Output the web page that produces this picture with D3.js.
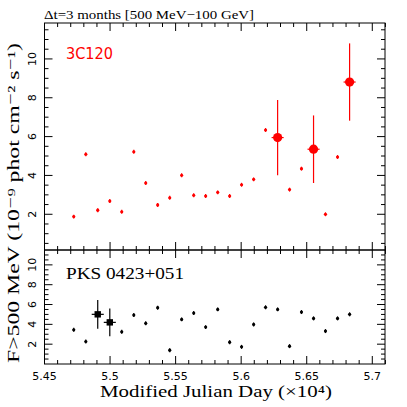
<!DOCTYPE html>
<html>
<head>
<meta charset="utf-8">
<script src="https://cdn.jsdelivr.net/npm/d3@7"></script>
<style>
  body { margin: 0; background: #fff; }
  text { font-family: "Liberation Serif", "DejaVu Serif", serif; }
</style>
</head>
<body>
<div id="chart"></div>
<script>
(function () {
    // 3-month bins (MJD)
    var mjd = [54723, 54815, 54906, 54998, 55089, 55181, 55272, 55363,
               55455, 55546, 55638, 55729, 55821, 55912, 56003, 56095,
               56186, 56278, 56369, 56460, 56552, 56643, 56735, 56827];

    // 3C120, F>500 MeV (1e-9 ph cm-2 s-1)
    var flux3c120 = [1.88, 5.09, 2.21, 2.68, 2.13, 5.22, 3.61, 2.48,
                     2.85, 4.01, 2.98, 2.94, 3.13, 2.94, 3.52, 3.80,
                     6.34, 5.95, 3.27, 4.35, 5.35, 2.00, 4.95, 8.81];
    var err3c120 = [0.1, 0.1, 0.1, 0.1, 0.1, 0.1, 0.1, 0.1,
                    0.1, 0.1, 0.1, 0.1, 0.1, 0.1, 0.1, 0.1,
                    0.1, 1.94, 0.1, 0.1, 1.74, 0.1, 0.1, 1.99];

    // PKS 0423+051
    var fluxPks = [3.45, 2.27, 5.01, 4.20, 3.25, 4.94, 4.10, 5.68,
                   1.39, 4.50, 5.14, 3.72, 5.51, 2.20, 1.73, 3.99,
                   5.72, 5.51, 1.80, 5.24, 4.60, 3.32, 4.60, 5.01];
    var errPks = [0.2, 0.2, 1.45, 1.4, 0.2, 0.2, 0.2, 0.2,
                  0.2, 0.2, 0.2, 0.2, 0.2, 0.2, 0.2, 0.2,
                  0.2, 0.2, 0.2, 0.2, 0.2, 0.2, 0.2, 0.2];

    var xTicks = [5.45, 5.5, 5.55, 5.6, 5.65, 5.7];
    var yTicks = [2, 4, 6, 8, 10];
    var halfBin = 0.0046;

    var W = 407, H = 407;
    var left = 44.5, right = 385, top = 23, mid = 250, bottom = 364;

    var svg = d3.select("#chart").append("svg")
        .attr("width", W).attr("height", H);

    var x = d3.scaleLinear().domain([5.45, 5.7097]).range([left, right]);

    var panels = [
        { name: "3C120", color: "#ff0000", flux: flux3c120, err: err3c120,
          y: d3.scaleLinear().domain([0.16, 11.85]).range([mid, top]),
          y0: top, y1: mid, shape: "circle" },
        { name: "PKS 0423+051", color: "#000", flux: fluxPks, err: errPks,
          y: d3.scaleLinear().domain([0, 11.5]).range([bottom, mid]),
          y0: mid, y1: bottom, shape: "square" }
    ];

    var xMinor = d3.range(5.45, 5.711, 0.01);

    panels.forEach(function (p) {
        var g = svg.append("g");
        var y = p.y;

        // frame
        g.append("rect")
            .attr("x", left).attr("y", p.y0)
            .attr("width", right - left).attr("height", p.y1 - p.y0)
            .attr("fill", "none").attr("stroke", "#000").attr("stroke-width", 1);

        // x ticks, inward on top and bottom
        xMinor.forEach(function (t) {
            var major = xTicks.some(function (m) { return Math.abs(m - t) < 1e-6; });
            var len = major ? 8 : 4;
            g.append("line").attr("x1", x(t)).attr("x2", x(t))
                .attr("y1", p.y1).attr("y2", p.y1 - len).attr("stroke", "#000");
            g.append("line").attr("x1", x(t)).attr("x2", x(t))
                .attr("y1", p.y0).attr("y2", p.y0 + len).attr("stroke", "#000");
        });

        // y ticks, inward on left and right
        var yMinor = d3.range(0.5, y.domain()[1], 0.5).filter(function (v) { return v >= y.domain()[0]; });
        yMinor.forEach(function (v) {
            var len = (v % 2 === 0) ? 8 : 4;
            g.append("line").attr("x1", left).attr("x2", left + len)
                .attr("y1", y(v)).attr("y2", y(v)).attr("stroke", "#000");
            g.append("line").attr("x1", right).attr("x2", right - len)
                .attr("y1", y(v)).attr("y2", y(v)).attr("stroke", "#000");
        });

        // y tick labels (rotated)
        yTicks.forEach(function (v) {
            g.append("text")
                .attr("transform", "translate(32," + y(v) + ") rotate(-90)")
                .attr("text-anchor", "middle")
                .attr("dominant-baseline", "central")
                .style("font-family", "'DejaVu Sans', sans-serif")
                .style("font-size", "11px")
                .text(v);
        });

        // error bars
        g.selectAll(".ey").data(p.flux).enter().append("line")
            .attr("x1", function (d, i) { return x(mjd[i] / 1e4); })
            .attr("x2", function (d, i) { return x(mjd[i] / 1e4); })
            .attr("y1", function (d, i) { return y(d - p.err[i]); })
            .attr("y2", function (d, i) { return y(d + p.err[i]); })
            .attr("stroke", p.color).attr("stroke-width", 1.2);

        var big = p.flux.map(function (d, i) { return { v: d, i: i, big: p.err[i] > 1 }; });

        g.selectAll(".ex").data(big.filter(function (d) { return d.big; })).enter().append("line")
            .attr("x1", function (d) { return x(mjd[d.i] / 1e4 - halfBin); })
            .attr("x2", function (d) { return x(mjd[d.i] / 1e4 + halfBin); })
            .attr("y1", function (d) { return y(d.v); })
            .attr("y2", function (d) { return y(d.v); })
            .attr("stroke", p.color).attr("stroke-width", 1.2);

        // small markers
        g.selectAll(".sm").data(big.filter(function (d) { return !d.big; })).enter().append("circle")
            .attr("cx", function (d) { return x(mjd[d.i] / 1e4); })
            .attr("cy", function (d) { return y(d.v); })
            .attr("r", 1.6)
            .attr("fill", p.color);

        // large markers
        var bigs = big.filter(function (d) { return d.big; });
        if (p.shape === "circle") {
            g.selectAll(".bm").data(bigs).enter().append("circle")
                .attr("cx", function (d) { return x(mjd[d.i] / 1e4); })
                .attr("cy", function (d) { return y(d.v); })
                .attr("r", 4.6)
                .attr("fill", p.color);
        } else {
            g.selectAll(".bm").data(bigs).enter().append("rect")
                .attr("x", function (d) { return x(mjd[d.i] / 1e4) - 3.2; })
                .attr("y", function (d) { return y(d.v) - 3.2; })
                .attr("width", 6.4).attr("height", 6.4)
                .attr("fill", p.color);
        }

        // source name
        g.append("text")
            .attr("x", 66).attr("y", p.y0 + (p.shape === "circle" ? 36 : 29))
            .style("font-family", p.shape === "circle" ? "'DejaVu Sans', sans-serif" : "'Liberation Serif', serif")
            .style("font-size", p.shape === "circle" ? "15px" : "17px")
            .attr("fill", p.color)
            .attr("textLength", p.shape === "circle" ? 47 : 118)
            .attr("lengthAdjust", "spacingAndGlyphs")
            .text(p.name);
    });

    // x tick labels
    xTicks.forEach(function (t) {
        svg.append("text")
            .attr("x", x(t)).attr("y", 380)
            .attr("text-anchor", "middle")
            .style("font-family", "'DejaVu Sans', sans-serif")
            .style("font-size", "11px")
            .text(t);
    });

    // axis labels
    svg.append("text")
        .attr("x", 216).attr("y", 397)
        .attr("text-anchor", "middle")
        .style("font-size", "16px")
        .attr("textLength", 232).attr("lengthAdjust", "spacingAndGlyphs")
        .text("Modified Julian Day (\u00d710\u2074)");

    svg.append("text")
        .attr("transform", "translate(13,203) rotate(-90)")
        .attr("text-anchor", "middle")
        .attr("dominant-baseline", "central")
        .style("font-size", "16px")
        .attr("textLength", 320).attr("lengthAdjust", "spacingAndGlyphs")
        .text("F>500 MeV (10\u207b\u2079 phot cm\u207b\u00b2 s\u207b\u00b9)");

    // header
    svg.append("text")
        .attr("x", 44).attr("y", 19)
        .style("font-size", "13px")
        .attr("textLength", 210).attr("lengthAdjust", "spacingAndGlyphs")
        .text("\u0394t=3 months  [500 MeV\u2212100 GeV]");
})();
</script>
</body>
</html>
